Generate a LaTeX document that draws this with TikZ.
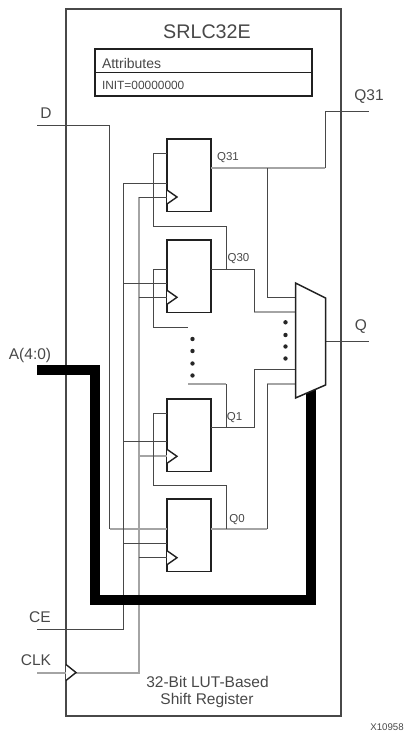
\documentclass[tikz,border=0pt]{standalone}
\usepackage{fontspec}
\setmainfont{Liberation Sans}
\definecolor{wire}{HTML}{484848}
\definecolor{lite}{HTML}{A4A4A4}
\definecolor{edge}{HTML}{202020}
\definecolor{ink}{HTML}{484848}
\tikzset{
  x=1pt,y=-1pt,
  every node/.style={inner sep=0pt,outer sep=0pt,text=ink},
  wirea/.style={draw=wire,line width=1pt,line join=miter},
  wireb/.style={draw=lite,line width=2pt,line join=miter},
  wirec/.style={draw=wire,line width=1pt},
  busline/.style={draw=black,line width=10pt,line join=miter},
  ffbox/.style={draw=edge,line width=1.5pt,fill=white,minimum width=44pt,minimum height=72.5pt,anchor=north west},
  clocktip/.style={draw=edge,line width=1.4pt,fill=white,line join=miter},
  biglabel/.style={font=\fontsize{15.5}{17}\selectfont},
  qlabel/.style={font=\fontsize{11.5}{13}\selectfont},
  dotmark/.style={circle,fill=black!85,minimum size=4.4pt},
}
\begin{document}
\begin{tikzpicture}
\useasboundingbox (0,0) rectangle (404,731);
% outer block
\node[draw=ink,line width=2pt,minimum width=274.5pt,minimum height=707pt,anchor=north west] (outer) at (66,9) {};
\node[font=\fontsize{19.7}{21}\selectfont] (title) at (207,32) {SRLC32E};
% attributes
\node[draw=edge,line width=1.5pt,minimum width=217pt,minimum height=23.5pt,anchor=north west] (attr) at (95,49) {};
\node[draw=edge,line width=1.5pt,minimum width=217pt,minimum height=23.5pt,anchor=north west] (init) at (95,72.5) {};
\node[anchor=west,font=\fontsize{14}{15}\selectfont] (attrt) at (102,63) {Attributes};
\node[anchor=west,font=\fontsize{11.9}{13}\selectfont] (initt) at (102,85.5) {INIT=00000000};
% flip-flops
\node[ffbox] (ffa) at (167,139) {};
\node[ffbox] (ffb) at (167,240) {};
\node[ffbox] (ffc) at (167,399) {};
\node[ffbox] (ffd) at (167,499) {};
% mux
\coordinate (mnw) at (295.5,283);
\coordinate (mne) at (325.5,298);
\coordinate (mse) at (325.5,385);
\coordinate (msw) at (295.5,398);
% free ends
\coordinate (dfree) at (37,125);
\coordinate (qtfree) at (369,111);
\coordinate (qfree) at (369,341);
\coordinate (cefree) at (37,629);
\coordinate (clkfree) at (37,672.5);
\coordinate (afree) at (37,370);
\coordinate (cebus) at (123.5,629);
\coordinate (clkbus) at (138.5,672.5);
% light wires
\draw[wireb] (ffa.east |- 0,168) -- (325,168);
\draw[wireb] (254,311.7) -- (295.5,311.7);
\draw[wireb] (188,384.3) -- (226,384.3);
\draw[wireb] (267,384.3) -- (295.5,384.3);
\draw[wireb] (clkfree) -- (clkbus) -- (138.5,197);
\draw[wireb] (109.5,528.7) -- (ffd.west |- 0,528.7);
\draw[wireb] (ffd.east |- 0,528.7) -- (267,528.7);
\draw[wireb] (138.5,456.3) -- (ffc.west |- 0,456.3);
% data and control wires
\draw[wirea] (dfree) -- (109.5,125) -- (109.5,528.7);
\draw[wirea] (325,168) -- (325,111) -- (qtfree);
\draw[wirea] (267,168) -- (267,297.3) -- (mnw |- 0,297.3);
\draw[wirea] (cefree) -- (cebus) -- (123.5,183) -- (ffa.west |- 0,183);
\draw[wirea] (138.5,197) -- (ffa.west |- 0,197);
\draw[wirea] (ffa.west |- 0,153) -- (153,153) -- (153,226) -- (226,226) -- (226,269.3);
\draw[wirea] (ffb.east |- 0,269.3) -- (254,269.3) -- (254,311.7);
\draw[wirea] (ffb.west |- 0,269.3) -- (153,269.3) -- (153,327.3) -- (188,327.3);
\draw[wirec] (123.5,283.3) -- (ffb.west |- 0,283.3);
\draw[wirec] (138.5,297.3) -- (ffb.west |- 0,297.3);
\draw[wirea] (226,384.3) -- (226,427.3);
\draw[wirea] (ffc.east |- 0,427.3) -- (254,427.3) -- (254,369.3) -- (mnw |- 0,369.3);
\draw[wirea] (ffc.west |- 0,413.3) -- (153,413.3) -- (153,485.3) -- (226,485.3) -- (226,528.7);
\draw[wirec] (123.5,441.3) -- (ffc.west |- 0,441.3);
\draw[wirec] (123.5,543.3) -- (ffd.west |- 0,543.3);
\draw[wirec] (138.5,557.7) -- (ffd.west |- 0,557.7);
\draw[wirea] (267,528.7) -- (267,384.3);
\draw[wirea] (mne |- 0,341) -- (qfree);
% bus
\draw[busline] (afree) -- (95,370) -- (95,600) -- (311,600) -- (311,390);
% mux body
\draw[draw=edge,line width=1.5pt,fill=white,line join=miter] (mnw) -- (mne) -- (mse) -- (msw) -- cycle;
% clock tips
\draw[clocktip] (167,190) -- (177,197) -- (167,204);
\draw[clocktip] (167,290.3) -- (177,297.3) -- (167,304.3);
\draw[clocktip] (167,449.3) -- (177,456.3) -- (167,463.3);
\draw[clocktip] (167,550.7) -- (177,557.7) -- (167,564.7);
\draw[clocktip] (66,664.5) -- (76,672.5) -- (66,680.5);
% dots
\foreach \n/\yy in {a/339,b/351,c/363.5,d/375.5} \node[dotmark] (l\n) at (192.5,\yy) {};
\foreach \n/\yy in {a/322.3,b/335,c/346.5,d/358.5} \node[dotmark] (r\n) at (285.5,\yy) {};
% labels
\node[biglabel] (ld) at (46,113) {D};
\node[biglabel] (lqt) at (369,97) {Q31};
\node[biglabel] (lq) at (361,327) {Q};
\node[biglabel] (la) at (30,355) {A(4:0)};
\node[biglabel] (lce) at (40,617) {CE};
\node[biglabel] (lclk) at (36,660) {CLK};
\node[qlabel] (qa) at (228,158) {Q31};
\node[qlabel] (qb) at (238.5,259) {Q30};
\node[qlabel] (qc) at (234.5,418) {Q1};
\node[qlabel] (qd) at (237,520) {Q0};
\node[biglabel] (foota) at (207.5,682) {32-Bit LUT-Based};
\node[biglabel] (footb) at (207,700) {Shift Register};
\node[font=\fontsize{9.7}{11}\selectfont] (code) at (387,727) {X10958};
\end{tikzpicture}
\end{document}
